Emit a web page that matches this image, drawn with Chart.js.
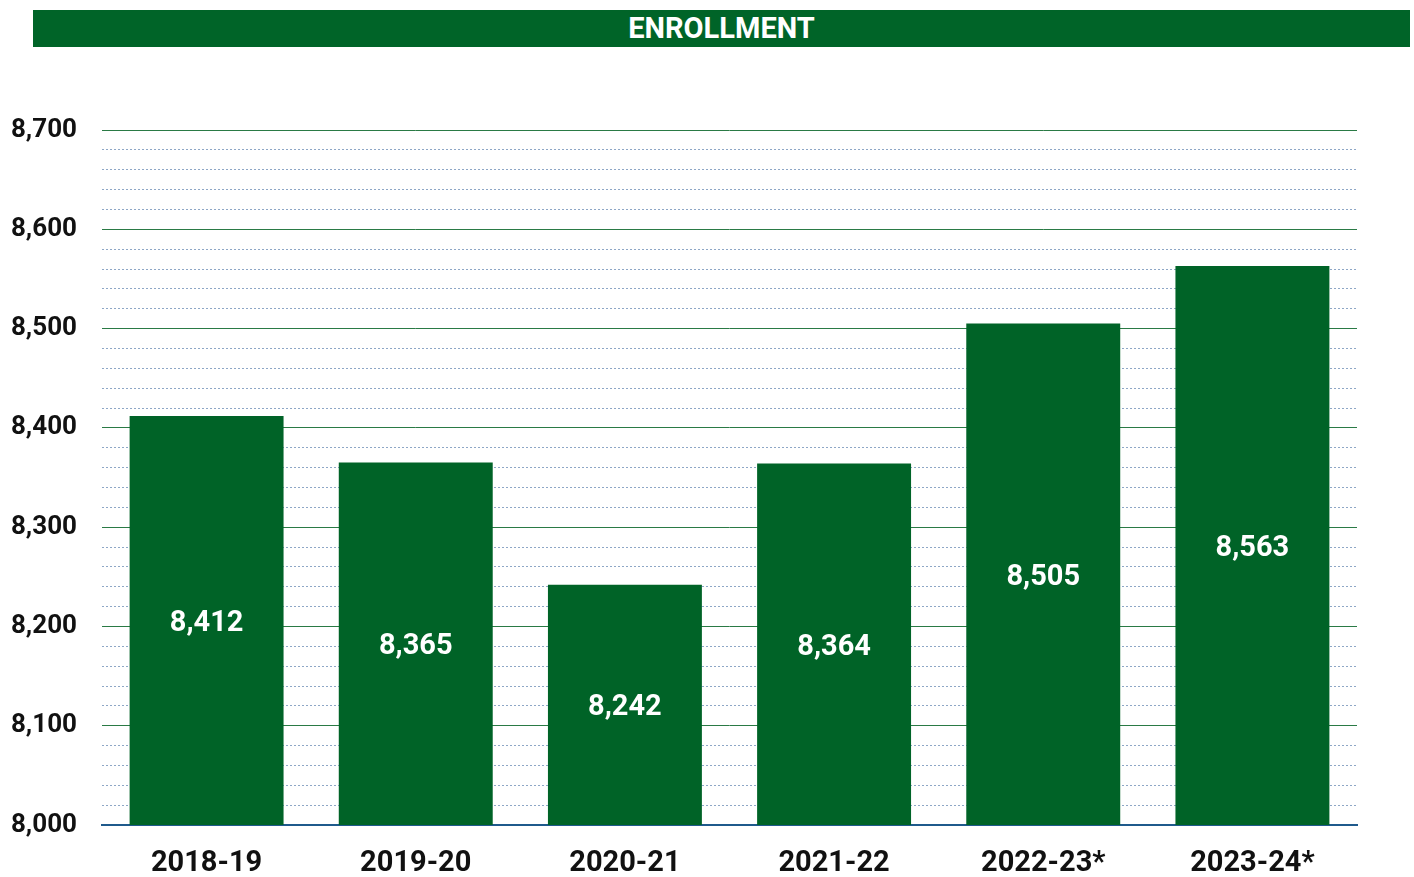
<!DOCTYPE html>
<html>
<head>
<meta charset="utf-8">
<script src="https://cdn.jsdelivr.net/npm/chart.js@4"></script>
<style>
  body { margin: 0; background: #fff; font-family: Roboto, sans-serif; }
  #wrap { position: relative; width: 1414px; height: 877px; }
  #title {
    position: absolute; left: 33px; top: 10px; width: 1377px; height: 37px;
    background: #006428; color: #fff; font: bold 29px Roboto, sans-serif;
    text-align: center; line-height: 37px;
  }
  canvas { position: absolute; left: 0; top: 0; }
</style>
</head>
<body>
<div id="wrap">
  <div id="title">ENROLLMENT</div>
  <canvas id="chart" width="1414" height="877"></canvas>
</div>
<script>
// enrollment per school year
var years = ["2018-19", "2019-20", "2020-21", "2021-22", "2022-23*", "2023-24*"];
var enrollment = [8412, 8365, 8242, 8364, 8505, 8563];
var yMin = 8000, yMax = 8700;

var barColor = '#006327';

function fmt(v) {
    return String(v).replace(/\B(?=(\d{3})+(?!\d))/g, ',');
}

// white numbers in the middle of each bar
var valueLabels = {
    id: 'valueLabels',
    afterDraw: function (chart) {
        var ctx = chart.ctx;
        var meta = chart.getDatasetMeta(0);
        var yScale = chart.scales.y;
        ctx.save();
        ctx.fillStyle = '#ffffff';
        ctx.font = 'bold 29px Roboto';
        ctx.textAlign = 'center';
        ctx.textBaseline = 'middle';
        for (var i = 0; i < meta.data.length; i++) {
            var bar = meta.data[i];
            var top = yScale.getPixelForValue(enrollment[i]);
            var bottom = yScale.getPixelForValue(yMin);
            ctx.fillText(fmt(enrollment[i]), bar.x, (top + bottom) / 2 + 3);
        }
        ctx.restore();
    }
};

new Chart(document.getElementById('chart').getContext('2d'), {
    type: 'bar',
    data: {
        labels: years,
        datasets: [{
            label: 'Enrollment',
            data: enrollment,
            backgroundColor: barColor,
            categoryPercentage: 1,
            barPercentage: 0.736
        }]
    },
    options: {
        responsive: false,
        animation: false,
        layout: { padding: { top: 130, right: 57, bottom: 0, left: 0 } },
        plugins: {
            legend: { display: false },
            tooltip: { enabled: false }
        },
        scales: {
            x: {
                grid: { display: false, drawTicks: false },
                border: { color: '#1f5a8c', width: 2 },
                ticks: {
                    color: '#111',
                    font: { family: 'Roboto', weight: 'bold', size: 29 },
                    padding: 21
                },
                afterFit: function (scale) { scale.height = 52; }
            },
            y: {
                min: yMin, max: yMax,
                grid: { color: '#2a7a45', lineWidth: 1, drawTicks: false },
                border: { display: false },
                ticks: {
                    stepSize: 100,
                    color: '#111',
                    padding: 25,
                    font: { family: 'Roboto', weight: 'bold', size: 26 },
                    callback: function (v) { return fmt(v); }
                },
                afterFit: function (scale) { scale.width = 102; }
            },
            // minor dotted lines every 20
            yMinor: {
                position: 'left',
                min: yMin, max: yMax,
                grid: {
                    drawTicks: false,
                    lineWidth: 1,
                    color: function (c) {
                        return c.tick && c.tick.value % 100 === 0 ? 'rgba(0,0,0,0)' : '#8ea7c6';
                    }
                },
                border: { display: false, dash: [2, 2] },
                ticks: { stepSize: 20, display: false },
                afterFit: function (scale) { scale.width = 0; }
            }
        }
    },
    plugins: [valueLabels]
});
</script>
</body>
</html>
